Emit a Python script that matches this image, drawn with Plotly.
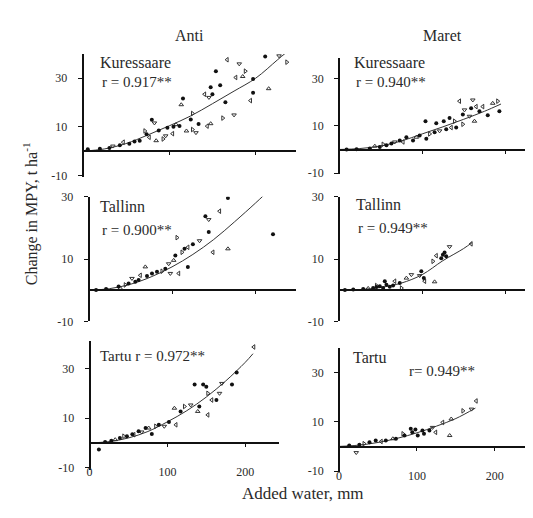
import plotly.graph_objects as go

# page offset (browser body margin) compensation
OFF = 8
W, H = 533 - OFF, 518 - OFF

# ---------------- data ----------------
col_titles = ["Anti", "Maret"]
site_labels = ["Kuressaare", "Tallinn", "Tartu"]
r_labels = ["r = 0.917**", "r = 0.940**", "r = 0.900**", "r = 0.949**", "r = 0.972**", "r= 0.949**"]
y_tick_vals = [-10, 10, 30]
y_tick_text = ["-10", "10", "30"]
x_tick_vals = [0, 100, 200]

# Anti – Kuressaare
ak_dot_x = [211, 154, 159, 148, 165, 197, 197, 116, 134, 80, 66, 54, 43, 6, 20, 31, 150, 112, 98, 74, 88, 60, 105, 125]
ak_dot_y = [38.9, 32.9, 27.1, 26.3, 20.1, 24, 29.7, 21.7, 11.2, 12.9, 4.3, 3, 2.4, 0.8, 1, 1.3, 23.4, 10.3, 9.6, 7, 8.5, 4, 10, 13]
ak_open_x = [167, 181, 188, 185, 177, 227, 236, 215, 194, 175, 162, 148, 144, 131, 127, 120, 104, 96, 93, 85, 77, 83, 72, 114, 141, 146, 127, 108, 47, 35]
ak_open_y = [37.6, 35.9, 32.9, 30.7, 30.3, 39.2, 36.6, 25.7, 20.8, 14.9, 13.6, 11.3, 10.3, 7.6, 8.9, 8.3, 7.2, 6.3, 5, 4.3, 5.7, 11.6, 8.3, 19.1, 23.4, 22.1, 15.5, 10.9, 3.7, 2.1]
ak_fit_x = [0, 25, 50, 75, 100, 125, 150, 175, 200, 225, 235]
ak_fit_y = [0, 0.9, 3.1, 6.6, 10.4, 14.5, 19.5, 24.7, 30, 37.5, 40.5]

# Maret – Kuressaare
mk_dot_x = [193, 179, 104, 117, 126, 133, 105, 81, 97, 63, 57, 49, 37, 21, 9, 169, 159, 141, 129, 115, 89, 73, 149]
mk_dot_y = [16.2, 14.5, 12, 11.1, 12, 13.4, 4.5, 5.2, 5.9, 2.5, 1.8, 1.1, 0.4, 0.1, 0, 16.2, 17.5, 9.3, 8.6, 7.3, 3.8, 3.8, 14.8]
mk_open_x = [145, 161, 191, 185, 165, 151, 149, 163, 135, 121, 109, 93, 77, 67, 53, 43, 173, 157, 139]
mk_open_y = [20.5, 21, 20.5, 19.6, 18.2, 16.8, 10.7, 12, 9.3, 7.9, 6.6, 5.2, 3.2, 3.2, 2.2, 1.4, 18.2, 14.1, 12]
mk_fit_x = [0, 25, 50, 75, 100, 125, 150, 175, 195]
mk_fit_y = [0, 0.4, 1.5, 3.6, 6.6, 9.6, 12.8, 16.2, 19.3]

# Anti – Tallinn
at_dot_x = [167, 221, 144, 140, 119, 125, 115, 104, 76, 70, 60, 48, 36, 21, 9, 82, 56, 92]
at_dot_y = [29.6, 18, 18.7, 23.8, 7.5, 14.8, 13.3, 11.2, 5.4, 4.6, 3.3, 2.2, 1.2, 0.4, 0.1, 5.9, 2.7, 6.9]
at_open_x = [157, 144, 106, 167, 149, 133, 112, 102, 108, 98, 88, 68, 62, 52, 44, 38, 119, 96]
at_open_y = [25.4, 22.7, 16.9, 13.3, 12.2, 15.9, 12.2, 9.6, 5.4, 5.4, 6.1, 7.5, 4.8, 3.8, 1.7, 0.6, 13.8, 8.5]
at_fit_x = [0, 25, 50, 75, 100, 125, 150, 175, 200, 210]
at_fit_y = [0, 0.5, 1.9, 4.3, 7.5, 11.5, 16.3, 22, 28, 30.5]

# Maret – Tallinn
mt_dot_x = [125, 127, 129, 123, 99, 102, 57, 55, 49, 61, 41, 29, 17, 7, 73, 53, 65, 45]
mt_dot_y = [11.4, 12.1, 10.9, 10.3, 6.1, 3.9, 1.8, 2.9, 1.3, 1.1, 0.7, 0.4, 0.2, 0.1, 2.3, 0.7, 1.5, 1]
mt_open_x = [159, 133, 113, 115, 103, 97, 75, 81, 67, 87, 45, 35, 117]
mt_open_y = [14.9, 14, 9.3, 2.7, 2.9, 4.7, 0.7, 3.9, 2.9, 5, 1.5, 0.6, 11.1]
mt_fit_x = [0, 25, 50, 75, 100, 125, 150, 160]
mt_fit_y = [0, 0.2, 0.9, 2.3, 5, 9.5, 13.4, 15.3]

# Anti – Tartu
au_dot_x = [189, 183, 135, 146, 150, 163, 141, 102, 80, 72, 63, 48, 39, 28, 20, 12, 89, 117, 55]
au_dot_y = [28.4, 23.6, 23.6, 23.6, 22.7, 17.3, 14.7, 8.4, 3.6, 6, 4.7, 2.7, 2, 0.9, 0.4, -2.7, 7.3, 12.7, 3.5]
au_open_x = [211, 170, 152, 139, 152, 130, 122, 109, 111, 96, 85, 76, 57, 67, 44, 33, 157, 167]
au_open_y = [38.7, 24, 20, 12.7, 11.3, 15.3, 14.7, 14, 7.3, 6.7, 6.7, 6, 3.3, 4.4, 2.7, 1.3, 17.3, 20]
au_fit_x = [0, 25, 50, 75, 100, 125, 150, 175, 200, 210]
au_fit_y = [0, 0.5, 2, 4.6, 8.5, 13, 18.5, 25, 32.5, 36]

# Maret – Tartu
mu_dot_x = [92, 94, 107, 109, 101, 84, 60, 47, 39, 26, 13, 73, 116, 98]
mu_dot_y = [7.1, 5.7, 6.4, 5.1, 4.4, 4.4, 2.4, 2.4, 1.7, 0.7, 0.4, 3.1, 6.4, 6.8]
mu_open_x = [176, 170, 159, 142, 124, 120, 82, 69, 54, 22, 32, 144, 133]
mu_open_y = [18.4, 15.1, 14.4, 4.4, 5.7, 7.7, 5.1, 3.1, 2, -2.5, 1.1, 11.1, 9.7]
mu_fit_x = [0, 25, 50, 75, 100, 125, 150, 175]
mu_fit_y = [0, 0.5, 1.6, 3.3, 5.5, 8.2, 11.3, 15.5]

panels_data = [
    (ak_dot_x, ak_dot_y, ak_open_x, ak_open_y, ak_fit_x, ak_fit_y),
    (mk_dot_x, mk_dot_y, mk_open_x, mk_open_y, mk_fit_x, mk_fit_y),
    (at_dot_x, at_dot_y, at_open_x, at_open_y, at_fit_x, at_fit_y),
    (mt_dot_x, mt_dot_y, mt_open_x, mt_open_y, mt_fit_x, mt_fit_y),
    (au_dot_x, au_dot_y, au_open_x, au_open_y, au_fit_x, au_fit_y),
    (mu_dot_x, mu_dot_y, mu_open_x, mu_open_y, mu_fit_x, mu_fit_y),
]

# ---------------- layout geometry (page pixels) ----------------
# (x_left_px, x_right_px, x_max, y_top_px, y_bottom_px, y_min, y_max, zero_px)
geom = [
    (80, 295, 247, 48, 175, -10.8, 40, 148),
    (338, 533, 233.5, 52, 171, -10.2, 38.9, 146.5),
    (86, 295, 249, 195, 323, -10, 30, 291),
    (338, 533, 233.5, 195, 323, -10, 30, 291),
    (87, 278, 244, 343, 476, -11, 41.2, 448),
    (338, 533, 249, 350, 478, -10.4, 40, 452),
]

def px(x):
    return (x - OFF) / W

def py(y):
    return 1 - (y - OFF) / H

FONT = "Liberation Serif, Times New Roman, serif"
TXT = "#2a2a2a"
open_symbols = ["triangle-left-open", "triangle-down-open", "triangle-right-open", "triangle-up-open"]

fig = go.Figure()
layout = {}
for i, ((dx, dy, ox, oy, fx, fy), g) in enumerate(zip(panels_data, geom)):
    n = i + 1
    xa = "x" if n == 1 else f"x{n}"
    ya = "y" if n == 1 else f"y{n}"
    xl, xr, xmax, yt, yb, ymin, ymax, zp = g
    bottom_row = i >= 4
    fig.add_trace(go.Scatter(x=fx, y=fy, mode="lines", line=dict(color="#333", width=1, shape="spline"),
                             xaxis=xa, yaxis=ya, showlegend=False, hoverinfo="skip"))
    fig.add_trace(go.Scatter(x=ox, y=oy, mode="markers", xaxis=xa, yaxis=ya, showlegend=False,
                             marker=dict(symbol=[open_symbols[k % 4] for k in range(len(ox))], size=4,
                                         color="#333", line=dict(color="#333", width=1))))
    fig.add_trace(go.Scatter(x=dx, y=dy, mode="markers", xaxis=xa, yaxis=ya, showlegend=False,
                             marker=dict(symbol="circle", size=4, color="#111")))
    xaxis = dict(
        domain=[px(xl), min(px(xr), 1)], range=[0, xmax], anchor="free", position=py(zp),
        showline=True, linecolor="#111", linewidth=2, showgrid=False, zeroline=False,
        ticks="outside", ticklen=3, tickcolor="#111", tickwidth=1,
        tickvals=x_tick_vals if bottom_row else [100, 200],
        showticklabels=bottom_row,
        tickfont=dict(family=FONT, size=12, color=TXT),
    )
    if bottom_row:
        xaxis["ticklabelstandoff"] = 15
    layout["xaxis" if n == 1 else f"xaxis{n}"] = xaxis
    layout["yaxis" if n == 1 else f"yaxis{n}"] = dict(
        domain=[py(yb), py(yt)], range=[ymin, ymax], anchor="free", position=px(xl),
        showline=True, linecolor="#111", linewidth=2, showgrid=False, zeroline=False,
        ticks="outside", ticklen=4, tickcolor="#111", tickwidth=1, ticklabelstandoff=8,
        tickvals=y_tick_vals, ticktext=y_tick_text, tickfont=dict(family=FONT, size=12, color=TXT),
    )

ann = []
def add_text(text, x, y, size=15, xanchor="left", angle=0):
    ann.append(dict(text=text, x=px(x), y=py(y), xref="paper", yref="paper", showarrow=False,
                    xanchor=xanchor, yanchor="middle", textangle=angle,
                    font=dict(family=FONT, size=size, color=TXT)))

add_text(col_titles[0], 188, 29, 16, "center")
add_text(col_titles[1], 442, 29, 16, "center")
add_text(site_labels[0], 95, 57, 16)
add_text(r_labels[0], 98, 77)
add_text(site_labels[0], 351, 57, 16)
add_text(r_labels[1], 353, 77)
add_text(site_labels[1], 95, 205, 16)
add_text(r_labels[2], 98, 229)
add_text(site_labels[1], 353, 203, 16)
add_text(r_labels[3], 355, 227)
add_text(site_labels[2] + " " + r_labels[4], 95, 359)
add_text(site_labels[2], 350, 360, 16)
add_text(r_labels[5], 406, 374)
add_text("Change in MPY, t ha<sup>-1</sup>", 28, 212, 16, "center", -90)
add_text("Added water, mm", 302, 500, 17, "center")

layout.update(dict(width=W, height=H, margin=dict(l=0, r=0, t=0, b=0),
                   paper_bgcolor="white", plot_bgcolor="white", annotations=ann, showlegend=False))
fig.update_layout(**layout)
fig.write_html("out.html")
